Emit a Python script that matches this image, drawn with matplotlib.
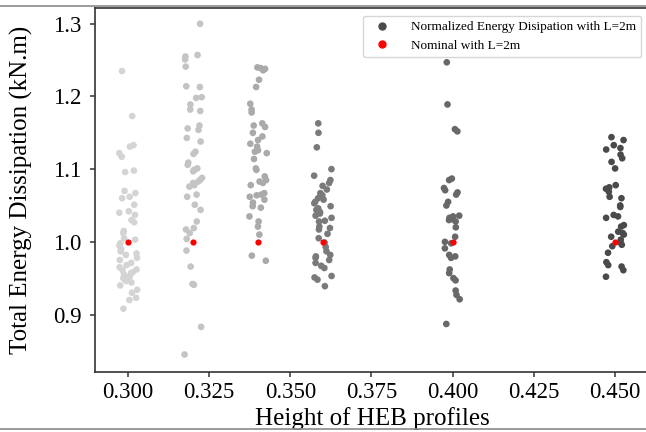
import matplotlib
matplotlib.use('Agg')
import matplotlib.pyplot as plt
from matplotlib.lines import Line2D
import pandas as pd
import seaborn as sns

# profile heights (x) and the normalized dissipation values
heights = [0.300, 0.320, 0.340, 0.360, 0.400, 0.450]

h300 = [1.235, 1.173, 1.133, 1.131, 1.122, 1.117, 1.098, 1.096, 1.070, 1.067,
        1.062, 1.060, 1.051, 1.042, 1.040, 1.037, 1.030, 1.027, 1.015, 1.012,
        1.005, 1.003, 0.998, 0.995, 0.990, 0.987, 0.984, 0.982, 0.978, 0.975,
        0.971, 0.968, 0.965, 0.962, 0.961, 0.958, 0.957, 0.955, 0.952, 0.950,
        0.948, 0.946, 0.944, 0.940, 0.934, 0.930, 0.923, 0.920, 0.908]
h320 = [1.300, 1.257, 1.255, 1.251, 1.241, 1.214, 1.213, 1.199, 1.198, 1.189,
        1.182, 1.180, 1.160, 1.156, 1.154, 1.143, 1.138, 1.124, 1.121, 1.109,
        1.106, 1.101, 1.099, 1.097, 1.088, 1.085, 1.083, 1.081, 1.078, 1.076,
        1.065, 1.062, 1.051, 1.044, 1.028, 1.019, 1.017, 1.012, 1.004, 0.988,
        0.966, 0.942, 0.941, 0.883, 0.845]
h340 = [1.240, 1.239, 1.238, 1.236, 1.223, 1.213, 1.190, 1.182, 1.178, 1.163,
        1.160, 1.158, 1.150, 1.145, 1.140, 1.135, 1.131, 1.126, 1.124, 1.122,
        1.114, 1.101, 1.099, 1.090, 1.085, 1.083, 1.081, 1.078, 1.067, 1.065,
        1.064, 1.062, 1.058, 1.054, 1.049, 1.047, 1.035, 1.028, 1.021, 1.010,
        0.981, 0.974]
h360 = [1.163, 1.150, 1.130, 1.100, 1.091, 1.085, 1.081, 1.077, 1.072, 1.067,
        1.064, 1.060, 1.058, 1.055, 1.053, 1.049, 1.046, 1.044, 1.041, 1.039,
        1.036, 1.033, 1.029, 1.028, 1.021, 1.019, 1.017, 1.011, 1.005, 0.999,
        0.993, 0.987, 0.982, 0.980, 0.978, 0.975, 0.971, 0.967, 0.964, 0.953,
        0.951, 0.948, 0.939]
h400 = [1.247, 1.189, 1.155, 1.152, 1.087, 1.085, 1.074, 1.071, 1.068, 1.065,
        1.055, 1.050, 1.036, 1.035, 1.033, 1.031, 1.030, 1.028, 1.020, 1.007,
        1.000, 0.998, 0.991, 0.982, 0.980, 0.978, 0.962, 0.957, 0.950, 0.947,
        0.933, 0.927, 0.921, 0.887]
h450 = [1.144, 1.140, 1.133, 1.129, 1.127, 1.120, 1.115, 1.110, 1.101, 1.078,
        1.075, 1.073, 1.069, 1.062, 1.060, 1.050, 1.048, 1.037, 1.035, 1.033,
        1.023, 1.021, 1.014, 1.012, 1.010, 1.007, 1.003, 0.999, 0.996, 0.994,
        0.985, 0.972, 0.968, 0.966, 0.961, 0.952]

nominal = [1.0, 1.0, 1.0, 1.0, 1.0, 1.0]

groups = [h300, h320, h340, h360, h400, h450]
greys = ['#d4d4d4', '#c4c4c4', '#aaaaaa', '#7a7a7a', '#686868', '#4a4a4a']

plt.rcParams['font.family'] = ['Liberation Serif', 'DejaVu Serif']

rows = []
for h, vals in zip(heights, groups):
    for v in vals:
        rows.append((h, v))
df = pd.DataFrame(rows, columns=['height', 'energy'])

fig = plt.figure(figsize=(6.46, 4.32), dpi=100)
ax = fig.add_axes([0.147, 0.139, 0.858, 0.843])

sns.stripplot(data=df, x='height', y='energy', hue='height', native_scale=True,
              palette=dict(zip(heights, greys)), jitter=0.14, size=4.8,
              linewidth=0, legend=False, ax=ax)
ax.scatter(heights, nominal, color='red', s=20, zorder=5, linewidths=0)

ax.set_xlim(0.2898, 0.4606)
ax.set_ylim(0.821, 1.322)
ax.set_xticks([0.300, 0.325, 0.350, 0.375, 0.400, 0.425, 0.450])
ax.set_xticklabels(['0.300', '0.325', '0.350', '0.375', '0.400', '0.425', '0.450'])
ax.set_yticks([0.9, 1.0, 1.1, 1.2, 1.3])
ax.tick_params(labelsize=16.5, color='#333333', width=1.1)
ax.tick_params(axis='y', pad=6)
for s in ax.spines.values():
    s.set_color('#333333')
    s.set_linewidth(1.2)

ax.set_xlabel('Height of HEB profiles', fontsize=18, labelpad=3)
ax.set_ylabel('Total Energy Dissipation (kN.m)', fontsize=18)
ax.yaxis.set_label_coords(-0.112, 0.5)

handles = [
    Line2D([], [], marker='o', linestyle='', color='#4a4a4a', markersize=5),
    Line2D([], [], marker='o', linestyle='', color='red', markersize=5),
]
ax.legend(handles, ['Normalized Energy Disipation with L=2m', 'Nominal with L=2m'],
          loc='upper right', fontsize=9.5, handletextpad=1.2,
          borderaxespad=0.6)

# page crop lines seen in the picture
fig.add_artist(Line2D([0, 1], [0.986, 0.986], color='#8a8a8a', lw=1.2))
fig.add_artist(Line2D([0, 1], [0.006, 0.006], color='#8a8a8a', lw=1.2))

fig.savefig('out.png', dpi=100)
